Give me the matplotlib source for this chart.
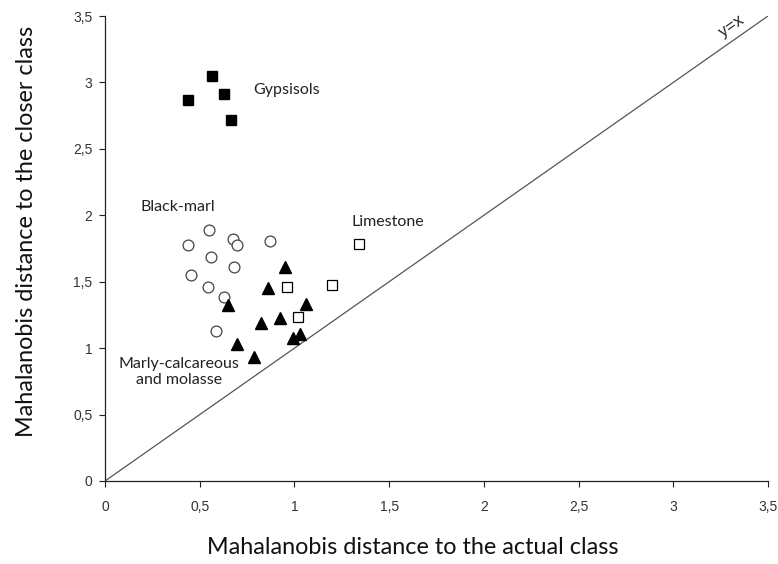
import matplotlib
matplotlib.use("Agg")
import matplotlib.pyplot as plt
from matplotlib import font_manager

# Mahalanobis distances: (actual class, closer class)
gyps_x = [0.44, 0.565, 0.63, 0.665]
gyps_y = [2.87, 3.05, 2.91, 2.72]

black_marl_x = [0.55, 0.44, 0.674, 0.695, 0.871, 0.558, 0.683, 0.454, 0.542, 0.628, 0.586]
black_marl_y = [1.887, 1.774, 1.82, 1.78, 1.81, 1.686, 1.614, 1.549, 1.461, 1.386, 1.13]

marly_x = [0.95, 0.858, 0.651, 1.061, 0.823, 0.923, 1.029, 0.994, 0.695, 0.788]
marly_y = [1.607, 1.453, 1.321, 1.336, 1.193, 1.228, 1.11, 1.073, 1.03, 0.935]

lime_x = [0.962, 1.199, 1.339, 1.02]
lime_y = [1.461, 1.476, 1.782, 1.235]

tick_values = [0, 0.5, 1, 1.5, 2, 2.5, 3, 3.5]
tick_labels = ["0", "0,5", "1", "1,5", "2", "2,5", "3", "3,5"]

names = {f.name for f in font_manager.fontManager.ttflist}
tick_font = "Liberation Sans Narrow" if "Liberation Sans Narrow" in names else "Liberation Sans"
text_font = "Lato"

W, H = 778, 564
fig = plt.figure(figsize=(W / 100, H / 100), dpi=100)
ax = fig.add_axes([105 / W, 83 / H, 663 / W, 465 / H])

# identity line
ax.plot([0, 3.5], [0, 3.5], color="#555555", lw=0.9, zorder=1)

ax.plot(gyps_x, gyps_y, ls="none", marker="s", ms=7.8, mfc="black", mec="black", zorder=3)
ax.plot(black_marl_x, black_marl_y, ls="none", marker="o", ms=7.8, mfc="white",
        mec="#444444", mew=0.9, zorder=2)
ax.plot(marly_x, marly_y, ls="none", marker="^", ms=9.2, mfc="black", mec="black", zorder=3)
ax.plot(lime_x, lime_y, ls="none", marker="s", ms=7.2, mfc="white", mec="black", mew=0.9, zorder=3)

ax.set_xlim(0, 3.5)
ax.set_ylim(0, 3.5)
ax.set_xticks(tick_values)
ax.set_yticks(tick_values)
ax.set_xticklabels(tick_labels)
ax.set_yticklabels(tick_labels)
for lab in ax.get_xticklabels() + ax.get_yticklabels():
    lab.set_fontfamily(tick_font)
    lab.set_fontsize(10)
    lab.set_color("#333333")
ax.tick_params(direction="out", length=4, width=0.8, color="#222222")
ax.tick_params(axis="x", pad=10)
ax.tick_params(axis="y", pad=5)

for side in ("top", "right"):
    ax.spines[side].set_visible(False)
for side in ("left", "bottom"):
    ax.spines[side].set_linewidth(0.9)
    ax.spines[side].set_color("#222222")

# axis titles placed in figure pixel terms
fig.text(413 / W, 1 - 548 / H, "Mahalanobis distance to the actual class",
         fontfamily=text_font, fontsize=16.8, color="#111111", ha="center", va="center")
fig.text(27 / W, 1 - 231 / H, "Mahalanobis distance to the closer class",
         fontfamily=text_font, fontsize=16.8, color="#111111", ha="center", va="center",
         rotation=90)

ann = dict(fontfamily=text_font, fontsize=11.5, color="#222222")
ax.text(0.78, 2.94, "Gypsisols", ha="left", va="center", **ann)
ax.text(0.385, 2.06, "Black-marl", ha="center", va="center", **ann)
ax.text(1.30, 1.95, "Limestone", ha="left", va="center", **ann)
ax.text(0.39, 0.82, "Marly-calcareous\nand molasse", ha="center", va="center",
        linespacing=1.25, **ann)
ax.text(3.31, 3.42, "y=x", ha="center", va="center", rotation=35,
        fontfamily=tick_font, fontsize=12, color="#222222")

fig.savefig("out.png", dpi=100)
